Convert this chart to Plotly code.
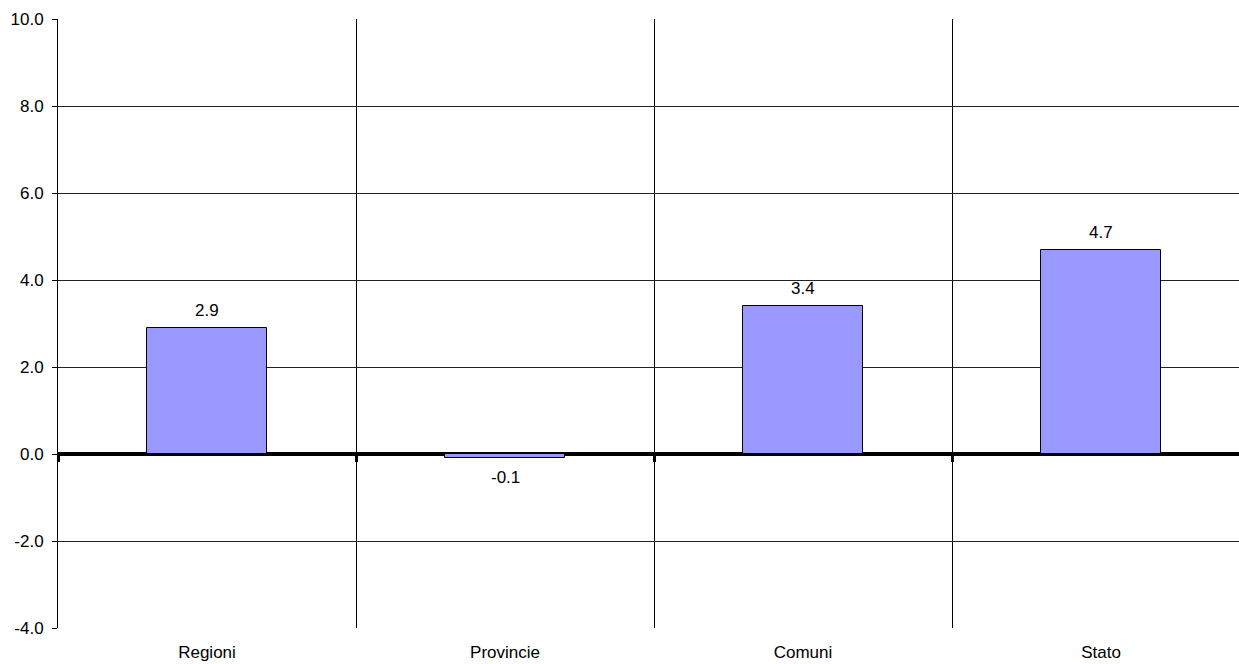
import plotly.graph_objects as go

categories = ["Regioni", "Provincie", "Comuni", "Stato"]
values = [2.9, -0.1, 3.4, 4.7]
value_labels = ["2.9", "-0.1", "3.4", "4.7"]
y_ticks = [-4, -2, 0, 2, 4, 6, 8, 10]
y_tick_labels = ["-4.0", "-2.0", "0.0", "2.0", "4.0", "6.0", "8.0", "10.0"]
y_min, y_max = -4, 10

xpos = list(range(len(categories)))
boundaries = [i - 0.5 for i in xpos]
font = dict(family="Liberation Sans, Arial, sans-serif", size=17, color="black")
x_range = [-0.5, 3.463]

fig = go.Figure()
fig.add_trace(go.Bar(
    x=xpos, y=values, width=0.4,
    marker=dict(color="#9999FF", line=dict(color="black", width=1)),
    showlegend=False, hoverinfo="skip",
))

for x, v, t in zip(xpos, values, value_labels):
    fig.add_annotation(
        x=x, y=v, text=t, showarrow=False, font=font,
        yanchor="bottom" if v >= 0 else "top",
        yshift=6 if v >= 0 else -8,
    )

fig.update_layout(
    width=1239, height=664,
    margin=dict(l=58, r=0, t=19, b=36),
    paper_bgcolor="white", plot_bgcolor="white",
    font=font,
    bargap=0,
    xaxis=dict(
        range=x_range, tickmode="array", tickvals=xpos, ticktext=categories,
        showgrid=False, ticks="", zeroline=False, showline=False,
        ticklabelstandoff=12,
        minor=dict(tick0=0.5, dtick=1, showgrid=True, gridcolor="black", gridwidth=1, ticks=""),
    ),
    # category-boundary tick marks sitting on the zero line
    xaxis2=dict(
        overlaying="x", anchor="free", position=(0 - y_min) / (y_max - y_min),
        range=x_range, tickmode="array", tickvals=boundaries, showticklabels=False,
        ticks="outside", ticklen=7, tickwidth=3, tickcolor="black",
        showgrid=False, zeroline=False, showline=False,
    ),
    yaxis=dict(
        range=[y_min, y_max], tickmode="array", tickvals=y_ticks, ticktext=y_tick_labels,
        showgrid=True, gridcolor="#222222", gridwidth=1,
        zeroline=True, zerolinecolor="black", zerolinewidth=4,
        showline=True, linecolor="black", linewidth=1,
        ticks="outside", ticklen=5, tickcolor="black",
        ticklabelstandoff=5,
    ),
)
# invisible trace to activate xaxis2
fig.add_trace(go.Scatter(x=[None], y=[None], xaxis="x2", showlegend=False, hoverinfo="skip"))

fig.write_html("out.html")
